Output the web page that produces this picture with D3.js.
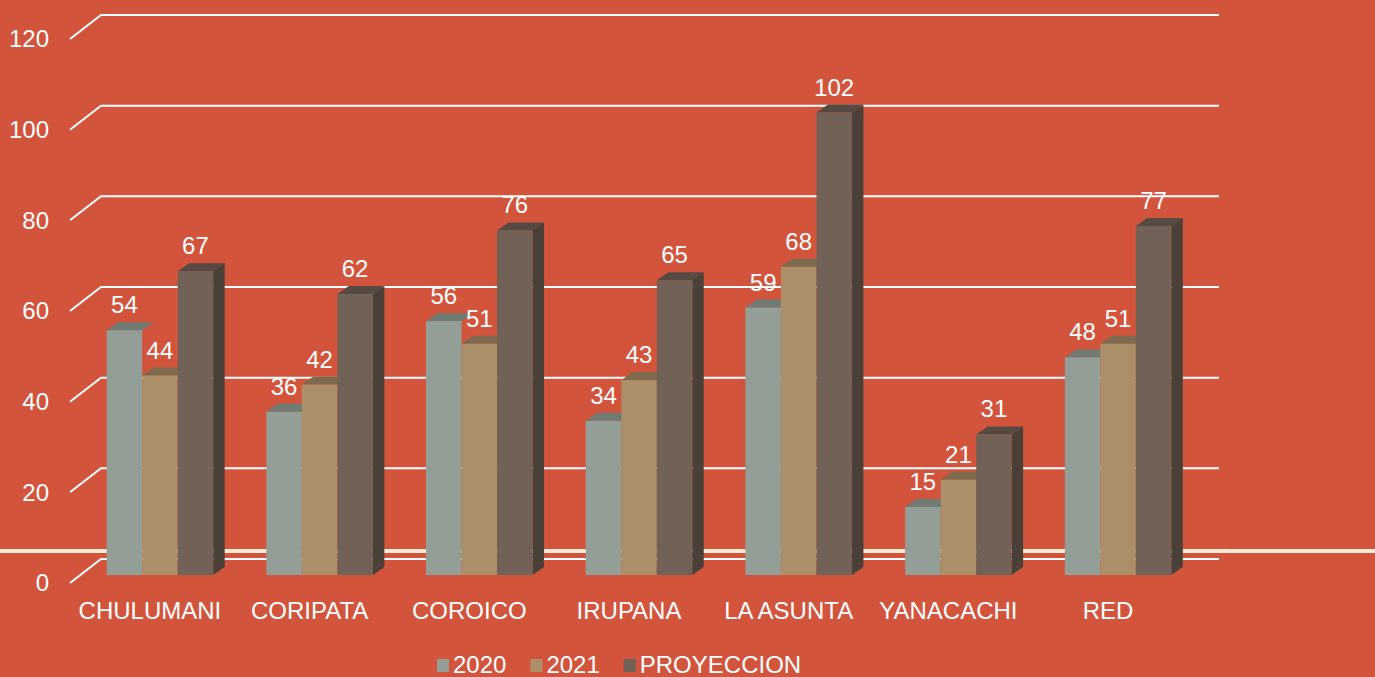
<!DOCTYPE html>
<html>
<head>
<meta charset="utf-8">
<script src="https://cdn.jsdelivr.net/npm/d3@7"></script>
<style>
  body { margin: 0; background: #D2543C; }
  svg { display: block; }
  text { font-family: "Liberation Sans", Arial, sans-serif; fill: #fff; }
</style>
</head>
<body>
<svg id="chart" width="1375" height="677"></svg>
<script>
// data
var categories = ['CHULUMANI', 'CORIPATA', 'COROICO', 'IRUPANA', 'LA ASUNTA', 'YANACACHI', 'RED']
var seriesNames = ['2020', '2021', 'PROYECCION']
var values2020 = [54, 36, 56, 34, 59, 15, 48]
var values2021 = [44, 42, 51, 43, 68, 21, 51]
var valuesProy = [67, 62, 76, 65, 102, 31, 77]
var yTicks = [0, 20, 40, 60, 80, 100, 120]

var seriesValues = [values2020, values2021, valuesProy]
var colors = [
  {front: '#939F96', top: '#6F7B73', side: '#5F6A63'},
  {front: '#AC8F68', top: '#7E6A4D', side: '#6B5940'},
  {front: '#726157', top: '#574A43', side: '#4A4038'}
]
var fontSize = '24px'

var svg = d3.select('#chart')

// back wall scale, floor front is shifted by (wallDx, wallDy)
var y = d3.scaleLinear().domain([0, 120]).range([559, 15])
var wallDx = 31, wallDy = 24
var backLeft = 101, backRight = 1219

// bars sit part way into the floor
var barShiftX = 10, barShiftY = 8   // shift of front face vs floor front edge
var barDx = 11.5, barDy = 8         // bar depth

var x = d3.scaleBand().domain(categories).range([backLeft - wallDx, backRight - wallDx])
  .paddingInner(0.333).paddingOuter(0.167)
var xs = d3.scaleBand().domain(seriesNames).range([0, x.bandwidth()])

// cream band line
svg.append('line')
  .attr('x1', 0).attr('x2', 1375).attr('y1', 551).attr('y2', 551)
  .attr('stroke', '#F2EBD5').attr('stroke-width', 4)

// gridlines with the diagonal going into the back wall
svg.append('g').selectAll('path').data(yTicks).join('path')
  .attr('d', function (d) {
    return 'M' + (backLeft - wallDx) + ',' + (y(d) + wallDy) + 'L' + backLeft + ',' + y(d) + 'L' + backRight + ',' + y(d)
  })
  .attr('fill', 'none').attr('stroke', '#fff').attr('stroke-width', 2)

svg.append('g').selectAll('text').data(yTicks).join('text')
  .attr('x', 49).attr('y', function (d) { return y(d) + wallDy })
  .attr('dy', '0.35em').attr('text-anchor', 'end')
  .style('font-size', fontSize)
  .text(function (d) { return d })

// bars
var base = y(0) + wallDy - barShiftY   // front bottom of bars
var k = (y(0) - y(120)) / 120
var bars = []
categories.forEach(function (c, i) {
  seriesNames.forEach(function (s, j) {
    bars.push({cat: c, s: s, j: j, v: seriesValues[j][i]})
  })
})

var gBars = svg.append('g')
bars.forEach(function (b) {
  var x0 = x(b.cat) + barShiftX + xs(b.s)
  var x1 = x0 + xs.bandwidth()
  var yt = base - b.v * k
  var g = gBars.append('g')
  if (b.j === seriesNames.length - 1) {
    g.append('polygon')
      .attr('points', [[x1, yt], [x1 + barDx, yt - barDy], [x1 + barDx, base - barDy], [x1, base]].join(' '))
      .attr('fill', colors[b.j].side)
  }
  g.append('polygon')
    .attr('points', [[x0, yt], [x0 + barDx, yt - barDy], [x1 + barDx, yt - barDy], [x1, yt]].join(' '))
    .attr('fill', colors[b.j].top)
  g.append('rect')
    .attr('x', x0).attr('y', yt).attr('width', xs.bandwidth()).attr('height', base - yt)
    .attr('fill', colors[b.j].front)
})

// value labels
svg.append('g').selectAll('text').data(bars).join('text')
  .attr('x', function (b) { return x(b.cat) + barShiftX + xs(b.s) + xs.bandwidth() / 2 })
  .attr('y', function (b) { return base - b.v * k - barDy - 9 })
  .attr('text-anchor', 'middle')
  .style('font-size', fontSize)
  .text(function (b) { return b.v })

// category labels
svg.append('g').selectAll('text').data(categories).join('text')
  .attr('x', function (c) { return x(c) + x.bandwidth() / 2 })
  .attr('y', 619)
  .attr('text-anchor', 'middle')
  .style('font-size', fontSize)
  .text(function (c) { return c })

// legend
var legend = svg.append('g')
var lx = 437
seriesNames.forEach(function (s, j) {
  legend.append('rect').attr('x', lx).attr('y', 659).attr('width', 12).attr('height', 13)
    .attr('fill', colors[j].front)
  var t = legend.append('text').attr('x', lx + 16).attr('y', 673)
    .style('font-size', fontSize).text(s)
  lx += 16 + t.node().getComputedTextLength() + 24
})
</script>
</body>
</html>
